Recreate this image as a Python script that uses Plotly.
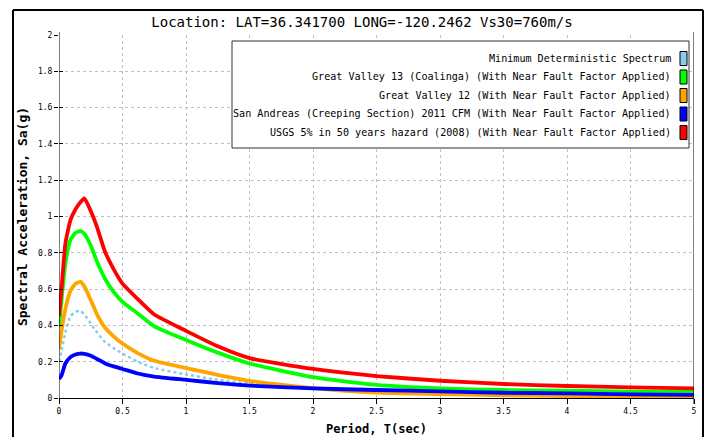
import plotly.graph_objects as go

# ---------------- data ----------------
periods = [0, 0.02, 0.05, 0.09, 0.13, 0.17, 0.2, 0.25, 0.3, 0.36, 0.43, 0.5,
           0.62, 0.75, 1.0, 1.25, 1.5, 2.0, 2.5, 3.0, 3.5, 4.0, 4.5, 5.0]

min_deterministic = [0.20, 0.26, 0.36, 0.45, 0.475, 0.48, 0.46, 0.41, 0.36, 0.31, 0.275, 0.245,
                     0.20, 0.165, 0.13, 0.10, 0.08, 0.055, 0.042, 0.033, 0.027, 0.022, 0.019, 0.016]
great_valley_13 = [0.39, 0.54, 0.74, 0.87, 0.91, 0.92, 0.905, 0.84, 0.75, 0.66, 0.585, 0.53,
                   0.465, 0.395, 0.32, 0.25, 0.19, 0.115, 0.072, 0.053, 0.044, 0.040, 0.035, 0.033]
great_valley_12 = [0.27, 0.37, 0.49, 0.59, 0.63, 0.64, 0.615, 0.54, 0.46, 0.39, 0.34, 0.30,
                   0.247, 0.205, 0.165, 0.128, 0.095, 0.055, 0.030, 0.022, 0.015, 0.011, 0.008, 0.006]
san_andreas = [0.105, 0.125, 0.19, 0.225, 0.24, 0.245, 0.243, 0.233, 0.215, 0.192, 0.174, 0.16,
               0.135, 0.118, 0.10, 0.082, 0.068, 0.053, 0.044, 0.037, 0.029, 0.026, 0.020, 0.017]
usgs_hazard = [0.45, 0.60, 0.85, 0.98, 1.04, 1.08, 1.10, 1.03, 0.94, 0.81, 0.71, 0.63,
               0.545, 0.46, 0.37, 0.285, 0.22, 0.16, 0.121, 0.095, 0.077, 0.066, 0.059, 0.053]

series_names = [
    "Minimum Deterministic Spectrum",
    "Great Valley 13 (Coalinga) (With Near Fault Factor Applied)",
    "Great Valley 12 (With Near Fault Factor Applied)",
    "San Andreas (Creeping Section) 2011 CFM (With Near Fault Factor Applied)",
    "USGS 5% in 50 years hazard (2008) (With Near Fault Factor Applied)",
]
series_values = [min_deterministic, great_valley_13, great_valley_12, san_andreas, usgs_hazard]
series_colors = ["#87CEEB", "#00FF00", "#FFA500", "#0000FF", "#FF0000"]

x_tickvals = [0, 0.5, 1, 1.5, 2, 2.5, 3, 3.5, 4, 4.5, 5]
x_ticktext = ["0", "0.5", "1", "1.5", "2", "2.5", "3", "3.5", "4", "4.5", "5"]
y_tickvals = [0, 0.2, 0.4, 0.6, 0.8, 1.0, 1.2, 1.4, 1.6, 1.8, 2.0]
y_ticktext = ["0", "0.2", "0.4", "0.6", "0.8", "1", "1.2", "1.4", "1.6", "1.8", "2"]

title_text = "Location: LAT=36.341700 LONG=-120.2462 Vs30=760m/s"
x_title = "Period, T(sec)"
y_title = "Spectral Acceleration, Sa(g)"

MONO = "DejaVu Sans Mono"

# ---------------- figure ----------------
W, H = 712, 438
L, R, T, B = 59, 18, 35, 40
PW, PH = W - L - R, H - T - B


def px_x(p):
    return (p - L) / PW


def px_y(p):
    return (H - B - p) / PH


fig = go.Figure()
for i, (name, vals, col) in enumerate(zip(series_names, series_values, series_colors)):
    if i == 0:
        line = dict(color=col, width=2.5, dash="dot", shape="spline", smoothing=0.5)
    else:
        line = dict(color=col, width=3.8, shape="spline", smoothing=0.5)
    fig.add_trace(go.Scatter(
        x=periods, y=vals, mode="lines", name=name, line=line,
        yaxis="y2" if i == len(series_names) - 1 else "y",
        showlegend=False, hoverinfo="skip",
    ))

fig.update_layout(
    width=W, height=H,
    margin=dict(l=L, r=R, t=T, b=B, pad=0),
    paper_bgcolor="white", plot_bgcolor="white",
    showlegend=False,
    font=dict(family=MONO, color="black"),
    title=dict(text=title_text, x=px_x(362), xref="paper", xanchor="center",
               y=1 - 22 / H, yref="container", yanchor="middle",
               font=dict(family=MONO, size=14, color="black")),
    xaxis=dict(range=[0, 5], tickvals=x_tickvals, ticktext=x_ticktext, automargin=False,
               showgrid=True, gridcolor="#c0c0c0", griddash="dot", gridwidth=1,
               showline=True, linecolor="black", linewidth=1,
               ticks="outside", ticklen=5, tickcolor="black",
               tickfont=dict(family=MONO, size=8), zeroline=False,
               title=dict(text="<b>" + x_title + "</b>", standoff=10,
                          font=dict(family=MONO, size=12))),
    yaxis=dict(range=[0, 2], tickvals=y_tickvals, ticktext=y_ticktext, automargin=False,
               showgrid=True, gridcolor="#c0c0c0", griddash="dot", gridwidth=1,
               showline=False, ticks="outside", ticklen=4, tickcolor="black",
               tickfont=dict(family=MONO, size=8), zeroline=False,
               title=dict(text="<b>" + y_title + "</b>", standoff=7,
                          font=dict(family=MONO, size=13))),
    yaxis2=dict(range=[0, 2], tickvals=y_tickvals, overlaying="y", side="left",
                anchor="x", showgrid=False, showline=False, zeroline=False, automargin=False,
                ticks="inside", ticklen=4, tickcolor="black", showticklabels=False),
)

shapes = []
# outer frame (drawn as three visible edges)
fx0, fx1, fy0, fy1 = px_x(13), px_x(703), px_y(437), px_y(10)
for (a, b, c, d) in [(fx0, fy1, fx1, fy1), (fx0, fy1, fx0, fy0), (fx1, fy1, fx1, fy0)]:
    shapes.append(dict(type="line", xref="paper", yref="paper", x0=a, y0=b, x1=c, y1=d,
                       line=dict(color="black", width=2), layer="above"))
# left and right vertical axis lines (extend slightly beyond plot)
for xv in (0, 5):
    shapes.append(dict(type="line", xref="x", yref="paper", x0=xv, x1=xv,
                       y0=px_y(404), y1=px_y(32), line=dict(color="black", width=1), layer="above"))
# legend box
shapes.append(dict(type="rect", xref="paper", yref="paper",
                   x0=px_x(232), x1=px_x(689), y0=px_y(148), y1=px_y(41),
                   line=dict(color="#333333", width=1), fillcolor="white", layer="above"))

row_y = [58.5, 77, 95.5, 114, 132.5]
annotations = []
for name, col, ry in zip(series_names, series_colors, row_y):
    annotations.append(dict(text=name, xref="paper", yref="paper",
                            x=px_x(673), y=px_y(ry), xanchor="right", yanchor="middle",
                            showarrow=False, font=dict(family=MONO, size=10.1, color="black")))
    shapes.append(dict(type="rect", xref="paper", yref="paper",
                       x0=px_x(680), x1=px_x(687), y0=px_y(ry + 7), y1=px_y(ry - 7),
                       line=dict(color="black", width=1), fillcolor=col, layer="above"))

fig.update_layout(shapes=shapes, annotations=annotations)

fig.write_html("out.html", config={"displayModeBar": False},
               post_script="document.body.style.margin='0px';document.body.style.overflow='hidden';")
